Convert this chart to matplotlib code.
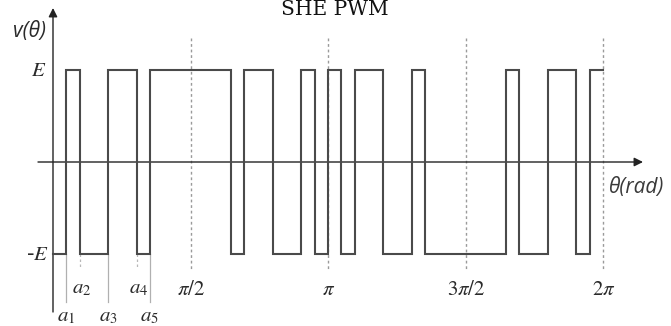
import numpy as np
import matplotlib
matplotlib.use("Agg")
import matplotlib.pyplot as plt

plt.rcParams['mathtext.fontset'] = 'stix'

# ---- data ----
switch_deg = [8.5, 17.7, 36.0, 55.0, 63.4, 116.6, 125.0, 144.0, 162.3, 171.5,
              180.0, 188.5, 197.7, 216.0, 235.0, 243.4, 296.6, 305.0, 324.0,
              342.3, 351.5, 360.0]
levels = [-1, 1, -1, 1, -1, 1, -1, 1, -1, 1, -1,
          1, -1, 1, -1, 1, -1, 1, -1, 1, -1, 1]
alpha_deg = [8.5, 17.7, 36.0, 55.0, 63.4]
alpha_labels = [r'$a_1$', r'$a_2$', r'$a_3$', r'$a_4$', r'$a_5$']
tick_pos = [np.pi / 2, np.pi, 3 * np.pi / 2, 2 * np.pi]
tick_labels = [r'$\pi/2$', r'$\pi$', r'$3\pi/2$', r'$2\pi$']

W, H = 671, 326
x0_px, px_per_rad = 53.0, 87.6
y0_px, px_per_E = 162.0, 92.0

fig = plt.figure(figsize=(W / 100, H / 100), dpi=100)
ax = fig.add_axes([0, 0, 1, 1])
ax.set_xlim(-x0_px / px_per_rad, (W - x0_px) / px_per_rad)
ax.set_ylim(-(H - y0_px) / px_per_E, y0_px / px_per_E)
ax.axis('off')

def px2x(p):
    return (p - x0_px) / px_per_rad

def py2y(p):
    return (y0_px - p) / px_per_E

# dashed reference lines
for t in tick_pos:
    ax.plot([t, t], [py2y(38), py2y(270)], color='#9a9a9a', lw=1.0,
            linestyle=(0, (2, 2)), zorder=1)

# waveform
edges = np.deg2rad([0.0] + switch_deg)
xs, ys = [], []
for i, lv in enumerate(levels):
    xs += [edges[i], edges[i + 1]]
    ys += [lv, lv]
ax.plot(xs, ys, color='#4a4a4a', lw=1.5, zorder=3, solid_joinstyle='miter')

# axes with arrows
ax.annotate('', xy=(px2x(643), 0), xytext=(px2x(38), 0),
            arrowprops=dict(arrowstyle='-|>', color='#222222', lw=1.0,
                            mutation_scale=13, shrinkA=0, shrinkB=0), zorder=2)
ax.annotate('', xy=(0, py2y(8)), xytext=(0, py2y(312)),
            arrowprops=dict(arrowstyle='-|>', color='#222222', lw=1.0,
                            mutation_scale=13, shrinkA=0, shrinkB=0), zorder=2)

txt_color = '#2a2a2a'

# alpha markers
for i, (a, lab) in enumerate(zip(alpha_deg, alpha_labels)):
    xa = np.deg2rad(a)
    if i % 2 == 0:
        ax.plot([xa, xa], [-1, py2y(302)], color='#b0b0b0', lw=0.9, zorder=1)
        ax.text(xa, py2y(316), lab, ha='center', va='center', fontsize=15,
                color=txt_color)
    else:
        ax.plot([xa, xa], [-1, py2y(268)], color='#b8b8b8', lw=0.9,
                linestyle=(0, (2, 2)), zorder=1)
        ax.text(xa + px2x(2) - px2x(0), py2y(288), lab, ha='center', va='center',
                fontsize=15, color=txt_color)

# pi tick labels
for t, lab in zip(tick_pos, tick_labels):
    ax.text(t, py2y(289), lab, ha='center', va='center', fontsize=15,
            color=txt_color)

# level labels
ax.text(px2x(39), 1, r'$E$', ha='center', va='center',
        fontsize=15, color=txt_color)
ax.text(px2x(37), -1, r'-$E$', ha='center', va='center',
        fontsize=15, color=txt_color)
ax.text(px2x(29), py2y(31), r'v(θ)', ha='center', va='center', fontsize=15,
        style='italic', family='Open Sans', color=txt_color)
ax.text(px2x(637), py2y(187), r'θ(rad)', ha='center', va='center', fontsize=15,
        style='italic', family='Open Sans', color='#3a3a3a')

# title (near the top edge)
fig.text(335 / W, 1 - 15 / H, 'SHE PWM', ha='center', va='baseline',
         fontsize=14.5, family='DejaVu Serif', color='#111111')

fig.savefig('out.png', dpi=100)
